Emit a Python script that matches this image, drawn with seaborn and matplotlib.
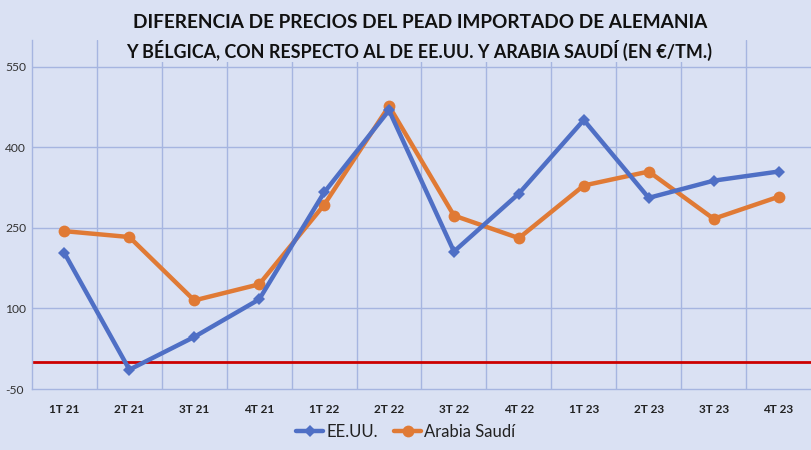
import matplotlib
matplotlib.use("Agg")
import matplotlib.pyplot as plt
import seaborn as sns
import pandas as pd

categories = ["1T 21", "2T 21", "3T 21", "4T 21", "1T 22", "2T 22",
              "3T 22", "4T 22", "1T 23", "2T 23", "3T 23", "4T 23"]
eeuu = [203, -14, 47, 117, 316, 469, 206, 314, 451, 306, 338, 355]
arabia = [244, 233, 115, 145, 293, 477, 273, 231, 329, 355, 267, 308]
yticks = [-50, 100, 250, 400, 550]
series_names = ["EE.UU.", "Arabia Saudí"]

BG = "#dae1f3"
GRID = "#a6b5e0"
BLUE = "#4f6fc5"
ORANGE = "#e07a35"

sns.set_theme(style="white")
plt.rcParams["font.family"] = ["Lato", "DejaVu Sans"]

fig = plt.figure(figsize=(8.11, 4.5), dpi=100, facecolor=BG)
ax = fig.add_axes([32 / 811, 1 - 389 / 450, 1 - 32 / 811, (389 - 40) / 450])
ax.set_facecolor(BG)

df = pd.DataFrame({"cat": categories, "EE.UU.": eeuu, "Arabia Saudí": arabia})
x = list(range(len(categories)))

sns.lineplot(x=x, y=df["EE.UU."], ax=ax, color=BLUE, lw=3.2, marker="D",
             markersize=6.5, markeredgewidth=0, label=series_names[0], zorder=4)
sns.lineplot(x=x, y=df["Arabia Saudí"], ax=ax, color=ORANGE, lw=3.2, marker="o",
             markersize=8.5, markeredgewidth=0, label=series_names[1], zorder=3)

ax.axhline(0, color="#cc0000", lw=2, zorder=2)

ax.set_xlim(-0.5, len(categories) - 0.5)
ax.set_ylim(-50, 600)
ax.set_yticks(yticks)
ax.set_yticklabels([str(v) for v in yticks], fontsize=8.7, color="#333333")
ax.set_xticks(x)
ax.set_xticklabels(categories, fontsize=8.5, fontweight="bold", color="#222222")
ax.tick_params(axis="both", length=0)
ax.tick_params(axis="x", pad=11)
ax.tick_params(axis="y", pad=19.5)
for lbl in ax.get_yticklabels():
    lbl.set_horizontalalignment("left")

for v in yticks[1:]:
    ax.axhline(v, color=GRID, lw=1, zorder=1)
for b in range(1, len(categories)):
    ax.axvline(b - 0.5, color=GRID, lw=1, zorder=1)

for s in ["top", "right"]:
    ax.spines[s].set_visible(False)
for s in ["left", "bottom"]:
    ax.spines[s].set_color(GRID)
    ax.spines[s].set_linewidth(1)
ax.set_xlabel("")
ax.set_ylabel("")

fig.text(0.518, 1 - 22 / 450, "DIFERENCIA DE PRECIOS DEL PEAD IMPORTADO DE ALEMANIA",
         ha="center", va="center", fontsize=13.7, fontweight="bold", color="#111111",
         bbox=dict(facecolor=BG, edgecolor="none", pad=1))
fig.text(0.517, 1 - 50 / 450, "Y BÉLGICA, CON RESPECTO AL DE EE.UU. Y ARABIA SAUDÍ (EN €/TM.)",
         ha="center", va="center", fontsize=12.9, fontweight="bold", color="#111111",
         bbox=dict(facecolor=BG, edgecolor="none", pad=1))

leg = ax.legend(loc="upper center", bbox_to_anchor=(0.48, -0.08), ncol=2,
                frameon=False, fontsize=12, handlelength=1.6, handletextpad=0.2,
                columnspacing=1.0, borderaxespad=0)
for t in leg.get_texts():
    t.set_color("#222222")

fig.savefig("out.png", dpi=100, facecolor=BG)
